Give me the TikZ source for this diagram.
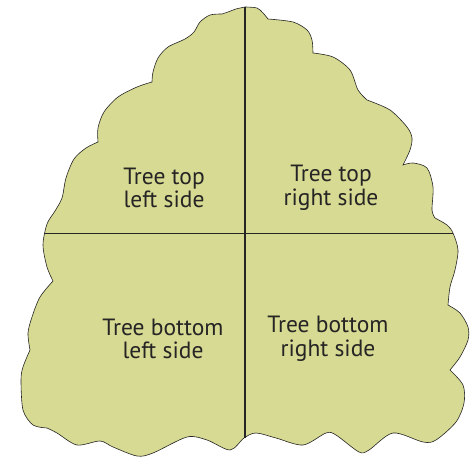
\documentclass[tikz,border=0pt]{standalone}
\usepackage{fontspec}
\setmainfont{PT Sans}
\definecolor{crown}{RGB}{214,218,146}
\definecolor{ink}{RGB}{38,36,36}

\begin{document}
\begin{tikzpicture}[x=1pt,y=-1pt,
  part/.style={align=center,text=ink,font=\fontsize{23.5}{23.5}\selectfont},
  split/.style={draw=ink,line width=1pt}]
\useasboundingbox (0,0) rectangle (476,457);

% crown outline, one plot for each lobe
\filldraw[fill=crown,draw=ink,line width=0.6pt]
  plot[smooth] coordinates{(245,7) (236,9) (228,12) (222,14)}
  -- plot[smooth] coordinates{(222,14) (210,15) (200,22) (194,32) (185,39) (168,47) (158,58) (153,72) (152,82)}
  -- plot[smooth] coordinates{(152,82) (137,87) (118,97) (104,112) (98,128) (98,142)}
  -- plot[smooth] coordinates{(98,142) (86,148) (74,159) (66,178) (62,198) (55,211) (47,224) (43,245) (47,267) (53,281)}
  -- plot[smooth] coordinates{(53,281) (40,297) (32,317) (28,333) (30,350)}
  -- plot[smooth] coordinates{(30,350) (23,367) (21,380) (23,410) (33,425) (47,428)}
  -- plot[smooth] coordinates{(47,428) (57,433) (77,445) (100,441) (113,447) (137,456) (153,453) (187,437) (207,440) (230,450) (244,438) (256,433) (276,438) (303,445) (326,433) (336,435) (359,452) (369,450) (393,433) (423,442) (436,440) (456,422) (464,403) (463,385) (450,370)}
  -- plot[smooth] coordinates{(450,370) (460,357) (468,340) (468,327) (460,313) (448,305)}
  -- plot[smooth] coordinates{(448,305) (450,287) (455,270) (458,250) (453,233) (447,225) (435,218)}
  -- plot[smooth] coordinates{(435,218) (432,210) (433,187) (427,168) (413,163) (403,165)}
  -- plot[smooth] coordinates{(403,165) (410,150) (412,138) (407,127) (390,110) (367,100)}
  -- plot[smooth] coordinates{(367,100) (358,90) (350,70) (333,57) (313,53)}
  -- plot[smooth] coordinates{(313,53) (312,40) (307,30) (293,22) (268,19)}
  -- plot[smooth] coordinates{(268,19) (263,13) (257,8) (245,7)} -- cycle;

\coordinate (top) at (245,7);
\coordinate (bottom) at (245,438);
\coordinate (west) at (44,233);
\coordinate (east) at (453,233);
\draw[split,line width=1.3pt] (top) -- (bottom);
\draw[split] (west) -- (east);

\node[part] (tl) at (164,188) {Tree top\\left side};
\node[part] (tr) at (331,188) {Tree top\\right side};
\node[part] (bl) at (163,339) {Tree bottom\\left side};
\node[part] (br) at (328,339) {Tree bottom\\right side};
\end{tikzpicture}
\end{document}
